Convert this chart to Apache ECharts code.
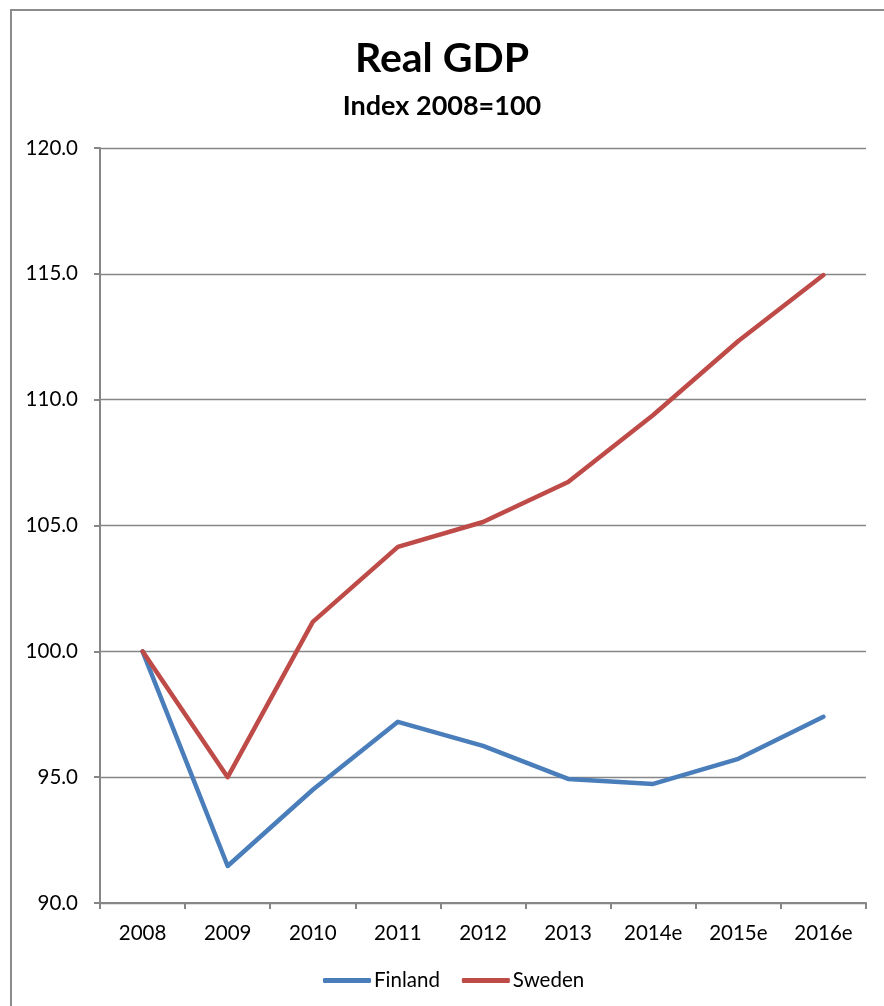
<!DOCTYPE html>
<html>
<head>
<meta charset="utf-8">
<script src="https://cdn.jsdelivr.net/npm/echarts@6/dist/echarts.min.js"></script>
<style>
  html, body { margin: 0; padding: 0; background: #fff; }
  #chart { width: 884px; height: 1006px; }
</style>
</head>
<body>
<div id="chart"></div>
<script>
// categories and values
var years = ["2008", "2009", "2010", "2011", "2012", "2013", "2014e", "2015e", "2016e"];
var finland = [100.0, 91.47, 94.5, 97.2, 96.24, 94.93, 94.73, 95.73, 97.4];
var sweden = [100.0, 95.0, 101.17, 104.15, 105.14, 106.73, 109.39, 112.33, 114.95];

var font = "Lato, 'Open Sans', sans-serif";
var chart = echarts.init(document.getElementById("chart"));

var options = {
  animation: false,
  graphic: [
    {
      // outer chart frame
      type: "rect",
      shape: { x: 11, y: 10, width: 900, height: 1020 },
      style: { fill: "none", stroke: "#8c8c8c", lineWidth: 2 },
      silent: true
    }
  ],
  title: {
    text: "Real GDP",
    subtext: "Index 2008=100",
    left: "center",
    top: 33,
    itemGap: 14,
    textStyle: { fontFamily: font, fontSize: 41, fontWeight: "bold", color: "#000" },
    subtextStyle: { fontFamily: font, fontSize: 27, fontWeight: "bold", color: "#000" }
  },
  legend: {
    bottom: 10,
    left: 318,
    itemWidth: 48,
    itemHeight: 5,
    itemGap: 22,
    icon: "roundRect",
    textStyle: { fontFamily: font, fontSize: 20.5, color: "#000", padding: [0, 0, 0, -2] },
    data: ["Finland", "Sweden"]
  },
  grid: { left: 100, right: 18, top: 148, bottom: 103 },
  xAxis: {
    type: "category",
    data: years,
    boundaryGap: true,
    axisLine: { lineStyle: { color: "#868686", width: 2 } },
    axisTick: { show: true, length: 6, lineStyle: { color: "#868686", width: 2 } },
    axisLabel: { fontFamily: font, fontSize: 20.5, color: "#000", margin: 20 }
  },
  yAxis: {
    type: "value",
    min: 90,
    max: 120,
    interval: 5,
    axisLine: { show: true, lineStyle: { color: "#868686", width: 2 } },
    axisTick: { show: true, length: 6, lineStyle: { color: "#868686", width: 2 } },
    splitLine: { lineStyle: { color: "#868686", width: 1.3 } },
    axisLabel: {
      fontFamily: font, fontSize: 20.5, color: "#000", margin: 22,
      formatter: function (v) { return v.toFixed(1); }
    }
  },
  series: [
    {
      name: "Finland",
      type: "line",
      data: finland,
      symbol: "none",
      color: "#4a7ebb",
      lineStyle: { width: 4.5, color: "#4a7ebb", cap: "round", join: "round" }
    },
    {
      name: "Sweden",
      type: "line",
      data: sweden,
      symbol: "none",
      color: "#be4b48",
      lineStyle: { width: 4.5, color: "#be4b48", cap: "round", join: "round" }
    }
  ]
};

chart.setOption(options);
</script>
</body>
</html>
